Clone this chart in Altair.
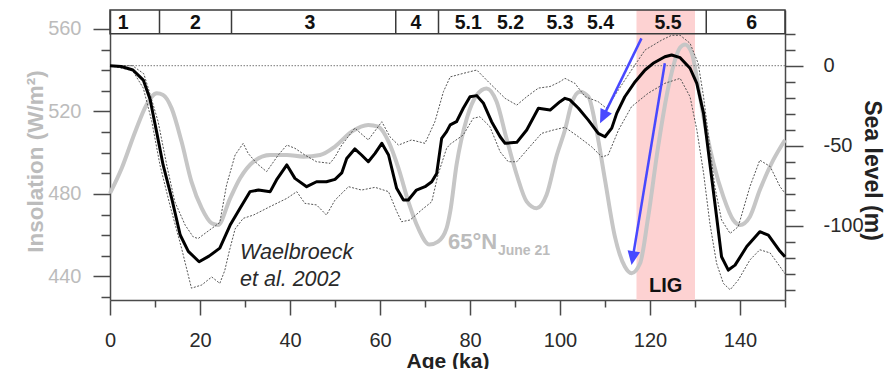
import math
import altair as alt
import pandas as pd

# ---- sea-level reconstruction (Waelbroeck et al. 2002), metres ----
sl_age = [0, 2.5, 5.1, 7.4, 8.9, 10.4, 11.8, 13.7, 15.6, 17.4, 19.8, 22, 24.4, 26.7, 28.9,
          31.1, 33, 35.6, 37, 39.3, 41.1, 43.7, 45.9, 48.1, 50, 51.5, 52.6, 54.4, 55.9, 57.4,
          58.9, 60.4, 61.9, 63.7, 65.2, 66.3, 68.1, 70, 71.5, 72.6, 73.7, 74.8, 75.6, 77, 78.5,
          80, 81.5, 83, 84.8, 86.7, 87.8, 90.4, 92.6, 95.2, 97.8, 100, 101.1, 102.2, 104.1, 106.3,
          108.5, 110, 111.5, 112.6, 114.4, 116.7, 118.9, 120.7, 123.3, 124.8, 126.7, 128.9, 130.4,
          131.9, 133.3, 134.8, 135.9, 137.4, 138.9, 141.5, 144.4, 146.3, 148.9, 150]
sl_mid = [0, -0.5, -2.7, -9, -21, -42, -62, -82.7, -105.8, -116, -122.5, -119, -114, -99.6, -89,
          -78.7, -77.7, -78.7, -71.4, -62, -70.4, -75.6, -72.5, -72.5, -71, -67, -58, -52, -55.8, -60,
          -54.8, -48.5, -55.8, -76.6, -83.9, -83.9, -77.7, -75.6, -72.5, -67.3, -45.4, -41.2, -37, -35, -26.6,
          -19.4, -18.7, -23.5, -35, -44.4, -48.5, -47.9, -40.2, -26.6, -27.7, -22.5, -20.4, -21.4, -26.6, -34,
          -42.3, -44.4, -39, -29.8, -19.4, -10, -2.7, 1.5, 5.6, 6.7, 5, -1.6, -11,
          -29.8, -61, -94.4, -119.4, -127.7, -124.6, -113, -103.7, -105.8, -116, -119.4]

# upper uncertainty envelope
hi_age = [0, 5, 7.5, 8.5, 10.7, 12.6, 14.4, 16.7, 18.5, 19.6, 21.1, 24.4, 25.9, 27.8, 29.6,
          30.7, 32.6, 34.8, 37.4, 39.3, 41.1, 43.3, 45.9, 48.9, 50, 51.5, 54.4, 57.4, 60.4, 62.2,
          64.1, 67, 70, 72.2, 74.1, 75.6, 78.5, 81.5, 84.4, 87.8, 90.4, 92.6, 95.2, 97.8, 100,
          101.1, 103.3, 105.6, 108.5, 110.3, 113, 115.9, 118.9, 122.6, 124.8, 126.7, 128.9, 130.7,
          131.9, 133.3, 134.4, 135.9, 137.8, 139.6, 142.2, 144.4, 146.7, 148.9, 150]
sl_hi = [0, 0, -5, -14, -35, -62, -85, -99.6, -107, -108, -104.8, -98, -74.6, -55.8, -48.5,
         -54.8, -61, -66.2, -55.8, -49.6, -51.6, -55.8, -60, -61, -57, -49.6, -39, -46.4, -35, -44.4,
         -49.6, -46.4, -48.5, -35, -16.2, -7, -4.8, -2.7, -11, -20.4, -24.6, -19.4, -14, -13, -10,
         -7.9, -11, -19.4, -22.5, -26.6, -15, -2.7, 9.8, 16, 19, 19, 14, 1.5,
         -19.4, -50.6, -75.6, -96.4, -104.8, -100.6, -75.6, -59, -63, -75.6, -79.7]

# lower uncertainty envelope
lo_age = [0, 5, 7.4, 9.3, 11.1, 13.3, 15.9, 18.1, 20.4, 22.6, 24.4, 25.5, 26.5, 27.8, 29.6,
          31.9, 35.6, 39.3, 41.5, 43.3, 45.9, 48.1, 50, 53, 55.9, 58.9, 61.9, 63.7, 64.8, 66.7,
          69.3, 71.5, 72.9, 74.8, 75.6, 78.5, 80.7, 82.2, 84.4, 86.7, 88.5, 90.4, 93.3, 95.9, 98.5,
          101.1, 104.1, 107, 109.3, 110.7, 113, 115.9, 119.6, 123.3, 126.7, 128.9, 130.4, 131.9,
          133.3, 134.8, 136.3, 137.8, 139.6, 142.2, 144.4, 146.7, 148.9, 150]
sl_lo = [0, -3, -14, -35, -62, -87, -114, -139, -137, -132, -136, -128, -116, -102, -95.4,
         -93.3, -88, -82.9, -78.7, -86, -87, -93.3, -84, -75.6, -77.7, -76, -78.7, -91, -97.5, -96.4,
         -90, -85, -68, -51.6, -49, -43.3, -32.9, -31.9, -38, -53.8, -60, -60, -50.6, -42.3, -40.2,
         -38.5, -44.4, -50.6, -57, -55.8, -40.2, -25.6, -17.2, -11, -7.9, -19.4, -40, -67,
         -98.5, -123.5, -136, -140, -134, -121.4, -115, -117, -125.6, -130]

# ---- 65°N June 21 insolation, W/m² ----
ins_age = [0, 2.6, 5.6, 8.1, 10.4, 11.8, 13.7, 15.9, 18.1, 20.4, 22.6, 24, 26.7, 28.9, 31.9,
           35.6, 39.3, 43, 46.7, 50, 53.7, 57.4, 59.6, 61.9, 64.1, 66.3, 68.5, 71.0, 72.9, 74.8,
           75.6, 77, 79.3, 81.5, 83.7, 85.9, 88.1, 90.4, 92.6, 94.8, 97, 99.3, 101.1, 102.6, 104.4,
           106.3, 108.1, 110, 112.2, 114.4, 115.9, 117.8, 119.6, 121.8, 124.1, 126.7, 127.8, 129.3,
           131.1, 132.6, 134.1, 136.3, 138.5, 140, 142.2, 144.4, 147.4, 150]
ins_val = [480.3, 492.5, 510.2, 523.2, 528.8, 528, 521.5, 505.4, 486, 473, 465.8, 465, 477.9, 487.6, 495.7,
           498.9, 498.9, 498.1, 498.9, 503, 510.2, 513.5, 512.6, 505.4, 492.5, 476.3, 463.4, 455.5, 456.9, 463.4,
           471.4, 494, 516.7, 528, 531.2, 524.8, 507, 489.2, 476.3, 473.1, 479.5, 498.9, 511, 524, 529.6,
           527.2, 511, 486.8, 459.3, 444.8, 441.6, 446.4, 469, 502.9, 532, 551, 552.5, 548.2,
           527.2, 509.4, 494.9, 478.7, 467.4, 465, 469, 481.9, 496.5, 506.2]

# ---- marine isotope stages ----
stage_dividers = [11, 27, 63.5, 73, 132.5]
stage_names = ["1", "2", "3", "4", "5.1", "5.2", "5.3", "5.4", "5.5", "6"]
stage_centres = [2.9, 19, 44.4, 68, 79.6, 89, 100, 109, 124, 142.6]
stage_row_base = 20      # sea-level value of the stage strip's lower edge
stage_label_level = 26.6

lig_start, lig_end = 117, 130

# ---- arrows: tail and tip in (age, sea level) ----
arrow_tail_age = [118.1, 123.3]
arrow_tail_sl = [17.1, 1.5]
arrow_tip_age = [108.9, 115.9]
arrow_tip_sl = [-36.0, -124.6]

assert len(sl_age) == len(sl_mid)
assert len(hi_age) == len(sl_hi)
assert len(lo_age) == len(sl_lo)
assert len(ins_age) == len(ins_val)

# ---- geometry / style ----
W, H = 675, 290
AGE_DOMAIN = [0, 150]
SL_DOMAIN = [-146.4, 34.8]
INS_DOMAIN = [428.6, 569.2]

FONT = "Liberation Sans"
DARK = "#4a4a4a"
INS_LINE = "#c6c6c6"
INS_TEXT = "#bcbcbc"
BLUE = "#4848ff"
PINK = "#fdd2d2"

x_axis = alt.Axis(
    values=list(range(0, 151, 10)),
    labelExpr="datum.value % 20 === 0 ? datum.label : ''",
    tickSize={"condition": {"test": "datum.value % 20 === 0", "value": 15}, "value": 7},
    labelPadding=15, labelFontSize=20, labelColor="#2a2a2a", labelFont=FONT,
    title="Age (ka)", titleFont=FONT, titleFontSize=21, titleFontWeight="bold",
    titleColor="#222222", titleBaseline="alphabetic", titleY=67,
    domainColor=DARK, domainWidth=1.5, tickColor=DARK, tickWidth=1.5,
    grid=False, labelFlush=False,
)
X = alt.X("age:Q", scale=alt.Scale(domain=AGE_DOMAIN, nice=False, zero=False), axis=x_axis)
X2 = alt.X2("age2:Q")

sl_axis = alt.Axis(
    orient="right",
    values=list(range(20, -141, -10)),
    labelExpr="datum.value % 50 === 0 ? '' + datum.value : ''",
    tickSize={"condition": {"test": "datum.value % 50 === 0", "value": 18}, "value": 10},
    labelPadding=20, labelFontSize=20, labelColor="#2a2a2a", labelFont=FONT, labelAlign="left",
    title="Sea level (m)", titleFont=FONT, titleFontSize=23, titleFontWeight="bold",
    titleColor="#222222", titleAngle=90, titleBaseline="alphabetic", titleAlign="center",
    titleX=79, titleY=160,
    domainColor=DARK, domainWidth=1.5, tickColor=DARK, tickWidth=1.5, grid=False,
)
Y_SL = alt.Y("sl:Q", scale=alt.Scale(domain=SL_DOMAIN, nice=False, zero=False), axis=sl_axis)

ins_axis = alt.Axis(
    orient="left",
    values=list(range(430, 561, 10)),
    labelExpr="datum.value % 40 === 0 ? datum.label : ''",
    tickSize={"condition": {"test": "datum.value % 40 === 0", "value": 17}, "value": 9},
    labelPadding=12, labelFontSize=20, labelColor=INS_TEXT, labelFont=FONT,
    title="Insolation (W/m²)", titleFont=FONT, titleFontSize=22.5, titleFontWeight="bold",
    titleColor=INS_TEXT, titleAngle=270, titleBaseline="alphabetic", titleAlign="center",
    titleX=-68, titleY=151,
    domainColor=DARK, domainWidth=1.5, tickColor=DARK, tickWidth=1.5, grid=False,
)
Y_INS = alt.Y("ins:Q", scale=alt.Scale(domain=INS_DOMAIN, nice=False, zero=False), axis=ins_axis)

# ---- tables ----
mid_df = pd.DataFrame({"age": sl_age, "sl": sl_mid})
hi_df = pd.DataFrame({"age": hi_age, "sl": sl_hi})
lo_df = pd.DataFrame({"age": lo_age, "sl": sl_lo})
ins_df = pd.DataFrame({"age": ins_age, "ins": ins_val})

# pixel scale factors, used to orient the arrowheads on screen
px_age = W / (AGE_DOMAIN[1] - AGE_DOMAIN[0])
px_sl = H / (SL_DOMAIN[1] - SL_DOMAIN[0])
shaft_rows, head_rows = [], []
for ta, ts, pa, ps in zip(arrow_tail_age, arrow_tail_sl, arrow_tip_age, arrow_tip_sl):
    dx = (pa - ta) * px_age
    dy = -(ps - ts) * px_sl
    length = math.hypot(dx, dy)
    heading = math.degrees(math.atan2(dx, -dy)) % 360   # clockwise from "up"
    frac = 1 - 8.0 / length
    shaft_rows.append({"age": ta, "sl": ts, "age2": ta + (pa - ta) * frac, "sl2": ts + (ps - ts) * frac})
    head_rows.append({"age": pa, "sl": ps, "rot": (heading - 180) % 360})
shaft_df = pd.DataFrame(shaft_rows)
head_df = pd.DataFrame(head_rows)

stage_df = pd.DataFrame({"age": stage_centres, "sl": [stage_label_level] * len(stage_names),
                         "name": stage_names})
div_df = pd.DataFrame({"age": stage_dividers, "sl": [stage_row_base] * len(stage_dividers)})
strip_df = pd.DataFrame({"age": [AGE_DOMAIN[0]], "age2": [AGE_DOMAIN[1]], "sl": [stage_row_base]})
zero_df = pd.DataFrame({"sl": [0]})
lig_df = pd.DataFrame({"age": [lig_start], "age2": [lig_end]})

# ---- layers ----
lig_band = alt.Chart(lig_df).mark_rect(color=PINK).encode(
    x=X, x2=X2, y=alt.value(0), y2=alt.value(H))

ins_line = alt.Chart(ins_df).mark_line(color=INS_LINE, strokeWidth=4, interpolate="monotone").encode(
    x=X, y=Y_INS)
ins_lbl = pd.DataFrame({"age": [75.1], "ins": [453.3]})
ins_main = alt.Chart(ins_lbl).mark_text(text="65°N", font=FONT, fontSize=22, fontWeight="bold",
                                        color=INS_TEXT, align="left", baseline="alphabetic").encode(x=X, y=Y_INS)
ins_sub = alt.Chart(ins_lbl).mark_text(text="June 21", font=FONT, fontSize=14, fontWeight="bold",
                                       color=INS_TEXT, align="left", baseline="alphabetic",
                                       dx=50, dy=6).encode(x=X, y=Y_INS)
ins_group = alt.layer(ins_line, ins_main, ins_sub)

zero_line = alt.Chart(zero_df).mark_rule(color="#777777", strokeWidth=1, strokeDash=[1.5, 1.5]).encode(y=Y_SL)
hi_line = alt.Chart(hi_df).mark_line(color="#555555", strokeWidth=1, strokeDash=[2, 1.5]).encode(x=X, y=Y_SL)
lo_line = alt.Chart(lo_df).mark_line(color="#555555", strokeWidth=1, strokeDash=[2, 1.5]).encode(x=X, y=Y_SL)
mid_line = alt.Chart(mid_df).mark_line(color="#000000", strokeWidth=3, strokeJoin="round").encode(x=X, y=Y_SL)

strip = alt.Chart(strip_df).mark_rect(filled=False, stroke="#3a3a3a", strokeWidth=1.5).encode(
    x=X, x2=X2, y=Y_SL, y2=alt.value(0))
dividers = alt.Chart(div_df).mark_rule(color="#3a3a3a", strokeWidth=1.5).encode(
    x=X, y=Y_SL, y2=alt.value(0))
stage_text = alt.Chart(stage_df).mark_text(font=FONT, fontSize=19.5, fontWeight="bold", color="#111111",
                                           baseline="middle", align="center").encode(
    x=X, y=Y_SL, text="name:N")

shafts = alt.Chart(shaft_df).mark_rule(color=BLUE, strokeWidth=2.5).encode(
    x=X, y=Y_SL, x2=X2, y2=alt.Y2("sl2:Q"))
heads = alt.Chart(head_df).mark_point(shape="M0,0L-0.45,-1L0.45,-1Z", filled=True, color=BLUE,
                                      opacity=1, size=784).encode(
    x=X, y=Y_SL, angle=alt.Angle("rot:Q", scale=None))

wael_df = pd.DataFrame({"age": [28.9], "sl": [-120.8]})
wael = alt.Chart(wael_df).mark_text(text=["Waelbroeck", "et al. 2002"], lineHeight=27, font=FONT,
                                    fontSize=21.5, fontStyle="italic", color="#2a2a2a",
                                    align="left", baseline="alphabetic").encode(x=X, y=Y_SL)
lig_df_txt = pd.DataFrame({"age": [(lig_start + lig_end) / 2], "sl": [-141.3]})
lig_txt = alt.Chart(lig_df_txt).mark_text(text="LIG", font=FONT, fontSize=20, fontWeight="bold",
                                          color="#111111", align="center", baseline="alphabetic").encode(x=X, y=Y_SL)

sl_group = alt.layer(zero_line, hi_line, lo_line, mid_line, strip, dividers, stage_text,
                     shafts, heads, wael, lig_txt)

chart = alt.layer(lig_band, ins_group, sl_group).resolve_scale(y="independent").properties(
    width=W, height=H,
    padding={"left": 110, "top": 10, "right": 99, "bottom": 69},
    autosize=alt.AutoSizeParams(type="none"),
    background="#ffffff",
).configure_view(stroke=None)

chart.save("out.html", embed_options={"renderer": "svg", "actions": False})
